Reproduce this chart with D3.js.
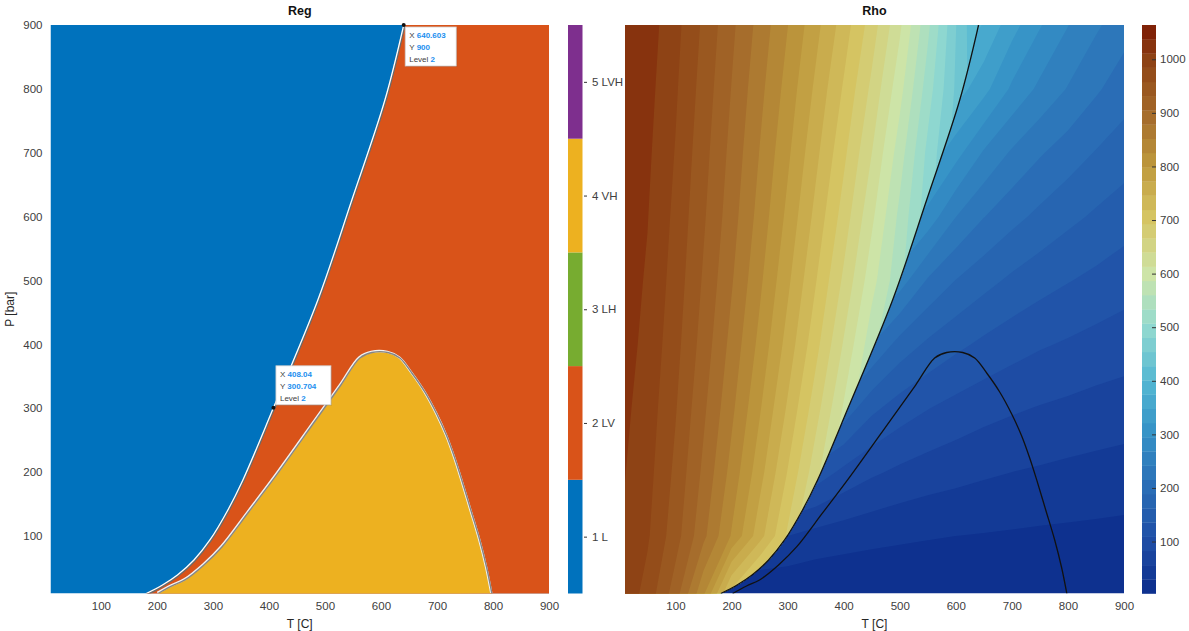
<!DOCTYPE html>
<html>
<head>
<meta charset="utf-8">
<script src="https://cdn.jsdelivr.net/npm/d3@7"></script>
<style>
  body { margin: 0; background: #fff; }
  svg { font-family: "Liberation Sans", Arial, Helvetica, sans-serif; }
</style>
</head>
<body>
<script>
const width = 1189;
const height = 631;

// ticks
const tTicks = [100, 200, 300, 400, 500, 600, 700, 800, 900];
const pTicks = [100, 200, 300, 400, 500, 600, 700, 800, 900];
const rhoTicks = [100, 200, 300, 400, 500, 600, 700, 800, 900, 1000];

// Reg levels
const regLevels = [1, 2, 3, 4, 5];
const regNames = ['1 L', '2 LV', '3 LH', '4 VH', '5 LVH'];
const regColors = ['#0072BD', '#D95319', '#77AC30', '#EDB120', '#7E2F8E'];

// boundary between level 1 and 2, [T, P]
const boundaryLV = [
  [181, 10], [209.9, 23.3], [236.6, 39], [266.1, 62.5], [294.6, 93.8], [326.7, 140.8],
  [353.5, 187.8], [408.04, 300.704], [487.3, 469.5], [548, 626], [607, 782.5], [640.603, 900]
];
// dome of level 4, [T, P]
const boundaryDome = [
  [202, 10], [226.8, 21.8], [250, 31.2], [283.9, 54.7], [316, 82.9], [362.4, 136.1],
  [407, 187.8], [483.7, 281.6], [528.4, 336.4], [562.3, 378.7], [583.7, 387.3], [612.3, 387.3],
  [633.7, 378.7], [655.1, 355.2], [678.3, 325.5], [699.7, 291], [717.5, 256.6], [731.8, 222.1],
  [744.3, 187.8], [760.4, 140.8], [776.4, 93.8], [788.9, 49.9], [798, 10]
];

const datatips = [
  { T: 640.603, P: 900, level: 2, dx: 1.5, dy: 2, w: 51 },
  { T: 408.04, P: 300.704, level: 2, dx: 2.5, dy: -42, w: 55 }
];

// Rho grid
const gridT = [0, 50, 100, 150, 200, 250, 300, 350, 400, 450, 500, 550, 600, 650, 700, 750, 800, 850, 900];
const gridP = [10, 100, 200, 300, 400, 500, 600, 700, 800, 900];

// liquid side, each row starts at T = 0 and runs just past the boundary
const rhoLiquid = [
  [1007, 975, 918, 830, 710, 650, 570],
  [1012, 988, 943, 885, 823, 757, 688, 610, 540],
  [1016, 994, 952, 899, 843, 783, 718, 650, 580, 520],
  [1020, 999, 960, 910, 858, 802, 742, 678, 610, 545, 490],
  [1024, 1004, 967, 920, 870, 818, 762, 702, 637, 570, 510, 460],
  [1027, 1008, 973, 928, 881, 831, 778, 721, 661, 597, 540, 485, 440],
  [1030, 1012, 978, 935, 890, 842, 792, 738, 681, 619, 553, 490, 435],
  [1033, 1016, 983, 941, 897, 851, 804, 753, 699, 640, 573, 500, 440, 395],
  [1036, 1020, 988, 947, 904, 860, 815, 767, 716, 660, 596, 520, 450, 395],
  [1039, 1024, 993, 953, 911, 869, 826, 781, 733, 680, 618, 540, 455, 385]
];
// vapour side, each row ends at T = 900
const rhoVapour = [
  [7, 6.5, 6, 5.6, 5.2, 4.9, 4.6, 4.3, 4.1, 3.9, 3.7, 3.5, 3.4, 3.3, 3.1, 3.0],
  [75, 70, 64, 56, 46, 41, 37, 34, 31.5, 29.5, 28, 26.5, 25, 24, 23, 22],
  [150, 140, 126, 102, 87, 77, 70, 65, 60, 56, 53, 50, 47.5, 45],
  [200, 180, 142, 123, 110, 100, 92, 86, 81, 77, 73, 70],
  [245, 215, 178, 157, 142, 130, 120, 112, 106, 100, 95],
  [300, 285, 255, 212, 188, 171, 157, 146, 137, 129, 121],
  [330, 310, 285, 242, 216, 197, 182, 169, 158, 148],
  [360, 340, 305, 265, 238, 218, 202, 187, 175],
  [385, 362, 330, 290, 262, 240, 219, 201],
  [420, 402, 372, 332, 297, 269, 246, 226]
];

const rhoRange = [3, 1064];
const rhoBands = 40;
const rhoStops = [0, 0.09, 0.19, 0.28, 0.37, 0.47, 0.56, 0.66, 0.75, 0.845, 0.94, 1];
const rhoColours = ['#0b2d8c', '#1f4da5', '#2a6eb6', '#3591c6', '#52b6d2', '#93dad0',
  '#cde5a9', '#d6c563', '#bf9a3e', '#a4692a', '#8d4214', '#7d1a04'];

const svg = d3.select('body').append('svg').attr('width', width).attr('height', height);
const defs = svg.append('defs');

const plotTop = 25;
const plotBottom = 593.5;
const xL = d3.scaleLinear().domain([10, 900]).range([50.5, 549]);
const xR = d3.scaleLinear().domain([10, 900]).range([625, 1124]);
const y = d3.scaleLinear().domain([10, 900]).range([plotBottom, plotTop]);

const textColor = '#404040';

function clipRect(id, xs) {
  defs.append('clipPath').attr('id', id).append('rect')
    .attr('x', xs.range()[0]).attr('y', plotTop)
    .attr('width', xs.range()[1] - xs.range()[0]).attr('height', plotBottom - plotTop);
}
clipRect('clipL', xL);
clipRect('clipR', xR);

function lineGen(xs) {
  return d3.line().x((d) => xs(d[0])).y((d) => y(d[1])).curve(d3.curveCatmullRom.alpha(0.5));
}

// ---------- left: Reg ----------
const gL = svg.append('g').attr('clip-path', 'url(#clipL)');
gL.append('rect').attr('x', xL(10)).attr('y', plotTop)
  .attr('width', xL(900) - xL(10)).attr('height', plotBottom - plotTop)
  .attr('fill', regColors[0]);
gL.append('path')
  .attr('d', lineGen(xL)(boundaryLV) + `L${xL(900) + 5},${y(900)}L${xL(900) + 5},${y(10) + 5}L${xL(boundaryLV[0][0])},${y(10) + 5}Z`)
  .attr('fill', regColors[1]);
gL.append('path')
  .attr('d', lineGen(xL)(boundaryDome) + `L${xL(boundaryDome[0][0])},${y(10) + 5}Z`)
  .attr('fill', regColors[3]);

// edge lines
gL.append('path').attr('d', lineGen(xL)(boundaryLV)).attr('fill', 'none')
  .attr('stroke', '#6a6a6a').attr('stroke-width', 2.4).attr('transform', 'translate(0.6,0.6)');
gL.append('path').attr('d', lineGen(xL)(boundaryLV)).attr('fill', 'none')
  .attr('stroke', '#ffffff').attr('stroke-width', 1.3);
gL.append('path').attr('d', lineGen(xL)(boundaryDome)).attr('fill', 'none')
  .attr('stroke', '#f2f2f2').attr('stroke-width', 2.4).attr('transform', 'translate(-0.6,-0.6)');
gL.append('path').attr('d', lineGen(xL)(boundaryDome)).attr('fill', 'none')
  .attr('stroke', '#858585').attr('stroke-width', 1.4);

// ---------- right: Rho ----------
const nT = gridT.length;
const nP = gridP.length;
const liquidValues = [];
const vapourValues = [];
for (let j = 0; j < nP; j++) {
  const lr = rhoLiquid[j];
  const vr = rhoVapour[j];
  for (let i = 0; i < nT; i++) {
    liquidValues.push(i < lr.length ? lr[i] : lr[lr.length - 1]);
    const k = i - (nT - vr.length);
    vapourValues.push(k >= 0 ? vr[k] : vr[0]);
  }
}

const step = (rhoRange[1] - rhoRange[0]) / rhoBands;
const rhoColor = d3.scaleLinear()
  .domain(rhoStops.map((t) => rhoRange[0] + t * (rhoRange[1] - rhoRange[0])))
  .range(rhoColours)
  .interpolate(d3.interpolateRgb);
const bandColor = (k) => rhoColor(rhoRange[0] + (k + 0.5) * step);
const thresholds = d3.range(1, rhoBands).map((k) => rhoRange[0] + k * step);

function gx2T(gx) {
  return gridT[0] + (gx - 0.5) * (gridT[1] - gridT[0]);
}
function gy2P(gy) {
  const j = gy - 0.5;
  if (j <= 0) return gridP[0] + j * (gridP[1] - gridP[0]);
  if (j >= nP - 1) return gridP[nP - 1] + (j - nP + 1) * (gridP[nP - 1] - gridP[nP - 2]);
  const j0 = Math.floor(j);
  return gridP[j0] + (j - j0) * (gridP[j0 + 1] - gridP[j0]);
}
const gridPath = d3.geoPath(d3.geoTransform({
  point: function (gx, gy) { this.stream.point(xR(gx2T(gx)), y(gy2P(gy))); }
}));

const contours = d3.contours().size([nT, nP]).thresholds(thresholds);

defs.append('clipPath').attr('id', 'clipLiquid').append('path')
  .attr('d', lineGen(xR)(boundaryLV) + `L${xR(0)},${y(900) - 5}L${xR(0)},${y(10) + 5}Z`);

const gR = svg.append('g').attr('clip-path', 'url(#clipR)');
gR.append('rect').attr('x', xR(10)).attr('y', plotTop)
  .attr('width', xR(900) - xR(10)).attr('height', plotBottom - plotTop)
  .attr('fill', bandColor(0));
gR.append('g').selectAll('path')
  .data(contours(vapourValues))
  .enter().append('path')
  .attr('d', gridPath)
  .attr('fill', (d, i) => bandColor(i + 1));
gR.append('g').attr('clip-path', 'url(#clipLiquid)').selectAll('path')
  .data(contours(liquidValues))
  .enter().append('path')
  .attr('d', gridPath)
  .attr('fill', (d, i) => bandColor(i + 1));

gR.append('path').attr('d', lineGen(xR)(boundaryLV)).attr('fill', 'none')
  .attr('stroke', '#111').attr('stroke-width', 1.3);
gR.append('path').attr('d', lineGen(xR)(boundaryDome)).attr('fill', 'none')
  .attr('stroke', '#111').attr('stroke-width', 1.3);

// ---------- axes ----------
function styleAxis(g) {
  g.select('.domain').remove();
  g.selectAll('text').attr('fill', textColor).attr('font-size', 11.5).attr('font-family', null);
  g.selectAll('.tick line').attr('stroke', '#333');
}
svg.append('g').attr('transform', `translate(0,${plotBottom})`)
  .call(d3.axisBottom(xL).tickValues(tTicks).tickSize(0).tickPadding(8)).call(styleAxis);
svg.append('g').attr('transform', `translate(0,${plotBottom})`)
  .call(d3.axisBottom(xR).tickValues(tTicks).tickSize(0).tickPadding(8)).call(styleAxis);
svg.append('g').attr('transform', `translate(${xL(10)},0)`)
  .call(d3.axisLeft(y).tickValues(pTicks).tickSize(0).tickPadding(8)).call(styleAxis);

// titles and labels
[[xL, 'Reg'], [xR, 'Rho']].forEach(([xs, t]) => {
  const cx = (xs.range()[0] + xs.range()[1]) / 2;
  svg.append('text').attr('x', cx).attr('y', 15).attr('text-anchor', 'middle')
    .attr('font-size', 12.5).attr('font-weight', 'bold').attr('fill', '#111').text(t);
  svg.append('text').attr('x', cx).attr('y', 628).attr('text-anchor', 'middle')
    .attr('font-size', 12).attr('fill', '#262626').text('T [C]');
});
svg.append('text').attr('transform', `translate(14,${(plotTop + plotBottom) / 2}) rotate(-90)`)
  .attr('text-anchor', 'middle').attr('font-size', 12).attr('fill', '#262626').text('P [bar]');

// ---------- colorbars ----------
const yReg = d3.scaleLinear().domain([0.5, 5.5]).range([plotBottom, plotTop]);
svg.append('g').selectAll('rect').data(regLevels).enter().append('rect')
  .attr('x', 568).attr('width', 14.5)
  .attr('y', (d) => yReg(d + 0.5)).attr('height', (d) => yReg(d - 0.5) - yReg(d + 0.5))
  .attr('fill', (d, i) => regColors[i]);
svg.append('g').attr('transform', 'translate(584,0)')
  .call(d3.axisRight(yReg).tickValues(regLevels).tickFormat((d, i) => regNames[i]).tickSize(3).tickPadding(5))
  .call(styleAxis);

const yRho = d3.scaleLinear().domain(rhoRange).range([plotBottom, plotTop]);
svg.append('g').selectAll('rect').data(d3.range(rhoBands)).enter().append('rect')
  .attr('x', 1142).attr('width', 14)
  .attr('y', (k) => yRho(rhoRange[0] + (k + 1) * step))
  .attr('height', (k) => yRho(rhoRange[0] + k * step) - yRho(rhoRange[0] + (k + 1) * step) + 0.3)
  .attr('fill', (k) => bandColor(k));
svg.append('g').attr('transform', 'translate(1156,0)')
  .call(d3.axisRight(yRho).tickValues(rhoTicks).tickFormat(d3.format('d')).tickSize(-4).tickPadding(4))
  .call(styleAxis);

// ---------- datatips ----------
function addDatatip(xs, tip) {
  const px = xs(tip.T);
  const py = y(tip.P);
  const bx = px + tip.dx;
  const by = py + tip.dy;
  const g = svg.append('g');
  g.append('rect').attr('x', bx + 1).attr('y', by + 1).attr('width', tip.w).attr('height', 39)
    .attr('fill', 'rgba(0,0,0,0.12)');
  g.append('rect').attr('x', bx).attr('y', by).attr('width', tip.w).attr('height', 39)
    .attr('fill', '#fff').attr('stroke', '#cfcfcf').attr('stroke-width', 0.8);
  const rows = [['X', String(tip.T)], ['Y', String(tip.P)], ['Level', String(tip.level)]];
  rows.forEach((r, i) => {
    const t = g.append('text').attr('x', bx + 4).attr('y', by + 11 + i * 12).attr('font-size', 8);
    t.append('tspan').attr('fill', '#404040').text(r[0] + ' ');
    t.append('tspan').attr('fill', '#1b8fef').attr('font-weight', 'bold').text(r[1]);
  });
  g.append('circle').attr('cx', px).attr('cy', py).attr('r', 2).attr('fill', '#111');
}
datatips.forEach((tip) => addDatatip(xL, tip));
</script>
</body>
</html>
